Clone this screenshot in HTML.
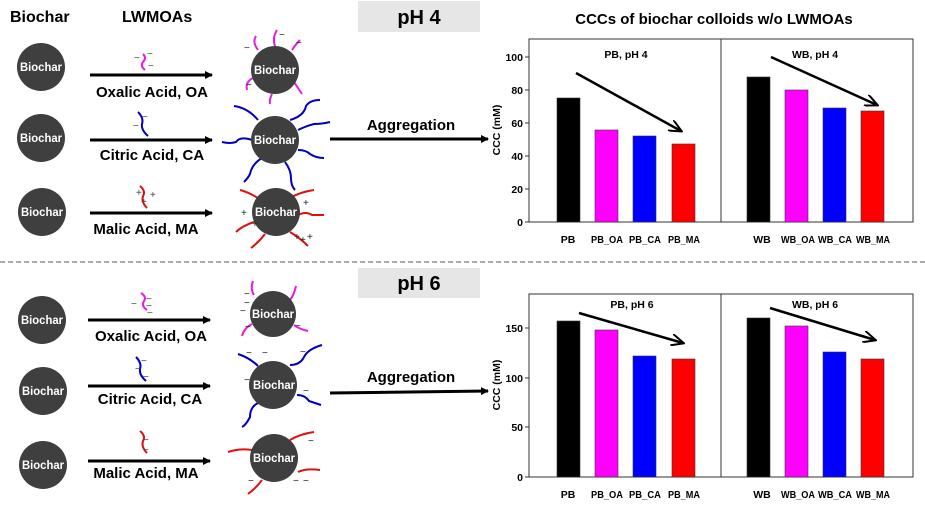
<!DOCTYPE html>
<html><head><meta charset="utf-8"><style>
body{margin:0;background:#fff}
svg{display:block;font-family:"Liberation Sans",Arial,sans-serif;font-weight:bold}
</style></head><body>
<svg width="925" height="511" viewBox="0 0 925 511" xmlns="http://www.w3.org/2000/svg">
<defs>
<marker id="ah" markerWidth="8" markerHeight="8" refX="7" refY="4" orient="auto" markerUnits="userSpaceOnUse"><path d="M0,0 L8,4 L0,8 Z" fill="#000"/></marker>
<marker id="ah2" markerWidth="14" markerHeight="12" refX="12" refY="6" orient="auto" markerUnits="userSpaceOnUse"><path d="M0,0 L13,6 L0,12" fill="none" stroke="#000" stroke-width="2"/></marker>
</defs>
<text x="10" y="22" font-size="16">Biochar</text>
<text x="122" y="22" font-size="16">LWMOAs</text>
<rect x="358" y="1" width="122" height="31" fill="#e6e6e6"/>
<text x="419" y="24" font-size="20" text-anchor="middle">pH 4</text>
<rect x="358" y="268" width="122" height="30" fill="#e6e6e6"/>
<text x="419" y="290" font-size="20" text-anchor="middle">pH 6</text>
<text x="714" y="24" font-size="15" text-anchor="middle">CCCs of biochar colloids w/o LWMOAs</text>
<line x1="0" y1="262" x2="925" y2="262" stroke="#555" stroke-dasharray="5,3"/>
<g fill="#3f3f3f"><circle cx="41" cy="67" r="24"/><circle cx="41" cy="138" r="24"/><circle cx="42" cy="212" r="24"/>
<circle cx="42" cy="320" r="24"/><circle cx="43" cy="391" r="24"/><circle cx="43" cy="465" r="24"/></g>
<g font-size="12" fill="#fff" text-anchor="middle" lengthAdjust="spacingAndGlyphs">
<text x="41" y="71" textLength="42" lengthAdjust="spacingAndGlyphs">Biochar</text><text x="41" y="142" textLength="42" lengthAdjust="spacingAndGlyphs">Biochar</text><text x="42" y="216" textLength="42" lengthAdjust="spacingAndGlyphs">Biochar</text>
<text x="42" y="324" textLength="42" lengthAdjust="spacingAndGlyphs">Biochar</text><text x="43" y="395" textLength="42" lengthAdjust="spacingAndGlyphs">Biochar</text><text x="43" y="469" textLength="42" lengthAdjust="spacingAndGlyphs">Biochar</text>
</g>
<g stroke="#000" stroke-width="3" marker-end="url(#ah)">
<line x1="90" y1="75" x2="212" y2="75"/><line x1="90" y1="140" x2="212" y2="140"/><line x1="90" y1="213" x2="212" y2="213"/>
<line x1="88" y1="320" x2="210" y2="320"/><line x1="88" y1="386" x2="210" y2="386"/><line x1="88" y1="461" x2="210" y2="461"/>
<line x1="330" y1="139" x2="488" y2="139"/><line x1="330" y1="393" x2="488" y2="391"/>
</g>
<g font-size="15" text-anchor="middle">
<text x="152" y="97">Oxalic Acid, OA</text><text x="152" y="160">Citric Acid, CA</text><text x="146" y="234">Malic Acid, MA</text>
<text x="151" y="341">Oxalic Acid, OA</text><text x="150" y="404">Citric Acid, CA</text><text x="146" y="478">Malic Acid, MA</text>
<text x="411" y="130">Aggregation</text><text x="411" y="382">Aggregation</text>
</g>
<g fill="none" stroke-width="2">
<path d="M143,54 q4,4 0,8 q-3,4 2,8" stroke="#e020e0"/>
<path d="M138,112 q6,6 4,12 q-1,6 6,12" stroke="#0000c0"/>
<path d="M140,186 q6,5 3,10 q-2,6 4,12" stroke="#e01010"/>
<path d="M141,293 q6,4 3,8 q-3,5 3,9" stroke="#e020e0"/>
<path d="M136,357 q6,6 4,12 q-1,6 6,12" stroke="#0000c0"/>
<path d="M140,431 q6,5 3,10 q-2,6 4,12" stroke="#e01010"/>
</g>
<g font-size="10" fill="#444" font-weight="normal">
<text x="134" y="61">−</text><text x="147" y="57">−</text><text x="148" y="69">−</text>
<text x="142" y="120">−</text><text x="133" y="129">−</text>
<text x="136" y="196">+</text><text x="150" y="198">+</text><text x="141" y="205">+</text>
<text x="131" y="307">−</text><text x="146" y="302">−</text><text x="146" y="309">−</text><text x="147" y="316">−</text>
<text x="141" y="364">−</text><text x="135" y="372">−</text><text x="143" y="380">−</text>
<text x="143" y="443">−</text><text x="143" y="453">−</text>
</g>
<g fill="none" stroke-width="2">
<g stroke="#e020e0">
<path d="M258,50 q-6,-8 -2,-14"/><path d="M275,46 q-3,-8 2,-16"/><path d="M292,50 q4,-6 8,-10"/><path d="M253,78 q-8,4 -6,12"/><path d="M272,94 q-3,6 -2,10"/><path d="M294,82 q4,6 8,12"/>
<path d="M254,295 q-4,-6 -1,-14"/><path d="M290,300 q4,-5 6,-14"/><path d="M252,324 q-8,4 -10,12"/><path d="M294,325 q5,4 14,6"/>
</g>
<g stroke="#0000c0">
<path d="M258,120 q-10,-12 -24,-14"/><path d="M290,120 q14,-4 16,-14 q4,-6 14,-6"/><path d="M298,130 q8,-4 16,-6 q8,0 16,-2"/><path d="M252,140 q-12,-4 -16,2 q-6,2 -14,0"/><path d="M298,150 q8,0 12,4 q6,4 14,4"/><path d="M262,158 q-10,6 -12,16 q-2,4 -6,8"/><path d="M285,162 q6,8 6,16 q0,8 4,12"/>
<path d="M258,366 q-8,-8 -20,-12"/><path d="M290,365 q10,0 14,-8 q4,-8 18,-12"/><path d="M297,395 q8,0 12,6 q6,2 12,4"/><path d="M258,403 q-8,4 -8,14 q-4,8 -8,10"/>
</g>
<g stroke="#e01010">
<path d="M258,198 q-10,-6 -18,-8"/><path d="M290,198 q10,-6 24,-8"/><path d="M298,215 q8,-4 14,0 q6,0 12,0"/><path d="M254,222 q-12,4 -18,10"/><path d="M265,234 q-6,8 -14,14"/><path d="M290,232 q10,6 18,14"/>
<path d="M252,450 q-12,-2 -24,2"/><path d="M290,440 q10,-6 24,-8"/><path d="M298,472 q8,-4 22,-2"/><path d="M262,480 q-6,8 -14,14"/>
</g>
</g>
<g fill="#3f3f3f"><circle cx="275" cy="70" r="24"/><circle cx="275" cy="140" r="24"/><circle cx="276" cy="212" r="24"/>
<circle cx="273" cy="314" r="23"/><circle cx="273" cy="385" r="24"/><circle cx="274" cy="458" r="24"/></g>
<g font-size="12" fill="#fff" text-anchor="middle">
<text x="275" y="74" textLength="42" lengthAdjust="spacingAndGlyphs">Biochar</text><text x="275" y="144" textLength="42" lengthAdjust="spacingAndGlyphs">Biochar</text><text x="276" y="216" textLength="42" lengthAdjust="spacingAndGlyphs">Biochar</text>
<text x="273" y="318" textLength="42" lengthAdjust="spacingAndGlyphs">Biochar</text><text x="274" y="389" textLength="42" lengthAdjust="spacingAndGlyphs">Biochar</text><text x="274" y="462" textLength="42" lengthAdjust="spacingAndGlyphs">Biochar</text>
</g>
<g font-size="10" fill="#222" font-weight="normal">
<text x="244" y="51">−</text><text x="279" y="38">−</text><text x="296" y="46">−</text><text x="246" y="88">−</text>
<text x="241" y="216">+</text><text x="252" y="227">+</text><text x="303" y="206">+</text><text x="294" y="240">+</text><text x="300" y="243">+</text><text x="307" y="240">+</text>
<text x="244" y="297">−</text><text x="244" y="306">−</text><text x="240" y="314">−</text><text x="245" y="330">−</text><text x="295" y="329">−</text>
<text x="246" y="356">−</text><text x="262" y="356">−</text><text x="300" y="355">−</text><text x="244" y="383">−</text><text x="303" y="394">−</text>
<text x="308" y="444">−</text><text x="248" y="484">−</text><text x="293" y="484">−</text><text x="303" y="484">−</text>
</g>
<!-- chart 1 -->
<g font-size="10.5">
<rect x="529" y="39" width="384" height="183" fill="none" stroke="#333"/>
<line x1="721" y1="39" x2="721" y2="222" stroke="#333"/>
<g stroke="#333"><line x1="525" y1="222" x2="529" y2="222"/><line x1="525" y1="189" x2="529" y2="189"/><line x1="525" y1="156" x2="529" y2="156"/><line x1="525" y1="123" x2="529" y2="123"/><line x1="525" y1="90" x2="529" y2="90"/><line x1="525" y1="57" x2="529" y2="57"/></g>
<g text-anchor="end"><text x="523" y="226">0</text><text x="523" y="193">20</text><text x="523" y="160">40</text><text x="523" y="127">60</text><text x="523" y="94">80</text><text x="523" y="61">100</text></g>
<text transform="translate(500,130) rotate(-90)" text-anchor="middle">CCC (mM)</text>
<g stroke="#333" stroke-width="0.6">
<rect x="557" y="98" width="23" height="124" fill="#000"/><rect x="595" y="130" width="23" height="92" fill="#ff00ff"/><rect x="633" y="136" width="23" height="86" fill="#0000ff"/><rect x="672" y="144" width="23" height="78" fill="#ff0000"/>
<rect x="747" y="77" width="23" height="145" fill="#000"/><rect x="785" y="90" width="23" height="132" fill="#ff00ff"/><rect x="823" y="108" width="23" height="114" fill="#0000ff"/><rect x="861" y="111" width="23" height="111" fill="#ff0000"/>
</g>
<g stroke="#000" stroke-width="2.5" marker-end="url(#ah2)"><line x1="576" y1="73" x2="681" y2="131"/><line x1="771" y1="57" x2="877" y2="105"/></g>
<text x="626" y="58" text-anchor="middle">PB, pH 4</text><text x="815" y="58" text-anchor="middle">WB, pH 4</text>
<g text-anchor="middle"><text x="568" y="243">PB</text><text x="607" y="243" textLength="32" lengthAdjust="spacingAndGlyphs">PB_OA</text><text x="645" y="243" textLength="32" lengthAdjust="spacingAndGlyphs">PB_CA</text><text x="684" y="243" textLength="32" lengthAdjust="spacingAndGlyphs">PB_MA</text>
<text x="762" y="243">WB</text><text x="798" y="243" textLength="34" lengthAdjust="spacingAndGlyphs">WB_OA</text><text x="835" y="243" textLength="34" lengthAdjust="spacingAndGlyphs">WB_CA</text><text x="873" y="243" textLength="34" lengthAdjust="spacingAndGlyphs">WB_MA</text></g>
</g>
<!-- chart 2 -->
<g font-size="10.5">
<rect x="529" y="294" width="384" height="183" fill="none" stroke="#333"/>
<line x1="721" y1="294" x2="721" y2="477" stroke="#333"/>
<g stroke="#333"><line x1="525" y1="477" x2="529" y2="477"/><line x1="525" y1="427" x2="529" y2="427"/><line x1="525" y1="378" x2="529" y2="378"/><line x1="525" y1="328" x2="529" y2="328"/></g>
<g text-anchor="end"><text x="523" y="481">0</text><text x="523" y="431">50</text><text x="523" y="382">100</text><text x="523" y="332">150</text></g>
<text transform="translate(500,385) rotate(-90)" text-anchor="middle">CCC (mM)</text>
<g stroke="#333" stroke-width="0.6">
<rect x="557" y="321" width="23" height="156" fill="#000"/><rect x="595" y="330" width="23" height="147" fill="#ff00ff"/><rect x="633" y="356" width="23" height="121" fill="#0000ff"/><rect x="672" y="359" width="23" height="118" fill="#ff0000"/>
<rect x="747" y="318" width="23" height="159" fill="#000"/><rect x="785" y="326" width="23" height="151" fill="#ff00ff"/><rect x="823" y="352" width="23" height="125" fill="#0000ff"/><rect x="861" y="359" width="23" height="118" fill="#ff0000"/>
</g>
<g stroke="#000" stroke-width="2.5" marker-end="url(#ah2)"><line x1="579" y1="313" x2="683" y2="343"/><line x1="770" y1="308" x2="875" y2="340"/></g>
<text x="632" y="308" text-anchor="middle">PB, pH 6</text><text x="815" y="308" text-anchor="middle">WB, pH 6</text>
<g text-anchor="middle"><text x="568" y="498">PB</text><text x="607" y="498" textLength="32" lengthAdjust="spacingAndGlyphs">PB_OA</text><text x="645" y="498" textLength="32" lengthAdjust="spacingAndGlyphs">PB_CA</text><text x="684" y="498" textLength="32" lengthAdjust="spacingAndGlyphs">PB_MA</text>
<text x="762" y="498">WB</text><text x="798" y="498" textLength="34" lengthAdjust="spacingAndGlyphs">WB_OA</text><text x="835" y="498" textLength="34" lengthAdjust="spacingAndGlyphs">WB_CA</text><text x="873" y="498" textLength="34" lengthAdjust="spacingAndGlyphs">WB_MA</text></g>
</g>
</svg>
</body></html>
